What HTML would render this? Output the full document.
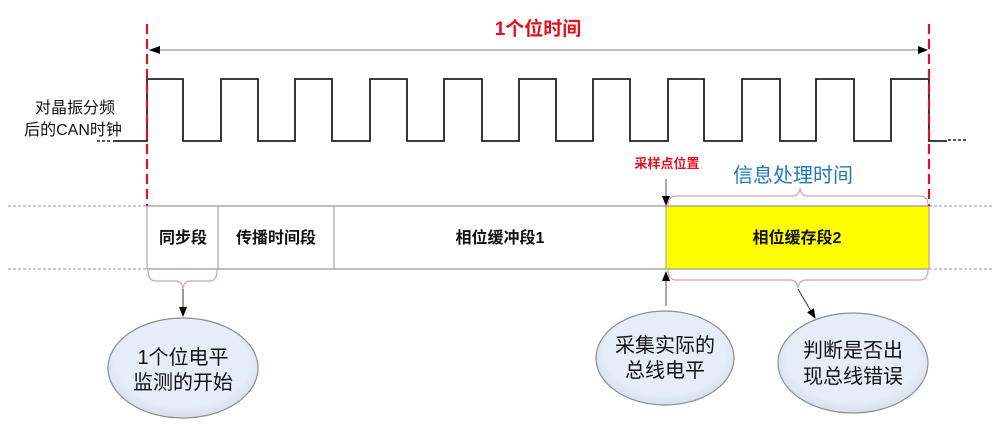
<!DOCTYPE html>
<html><head><meta charset="utf-8"><style>
body{margin:0;background:#fff;}
svg{display:block;font-family:"Liberation Sans","Noto Sans CJK SC",sans-serif;}
</style></head><body>
<svg width="1000" height="430" viewBox="0 0 1000 430" xmlns="http://www.w3.org/2000/svg">
<defs>
<marker id="a" markerWidth="10" markerHeight="8" refX="9" refY="4" orient="auto" markerUnits="userSpaceOnUse"><path d="M0,0 L10,4 L0,8z" fill="#000"/></marker>
<radialGradient id="g" cx="50%" cy="45%" r="55%"><stop offset="0.8" stop-color="#e4edf8"/><stop offset="1" stop-color="#d6dfeb"/></radialGradient>
</defs>
<text x="538" y="35" font-size="19" font-weight="bold" fill="#e2101a" text-anchor="middle">1个位时间</text>
<line x1="149" y1="50" x2="927" y2="50" stroke="#999" stroke-width="1.2" marker-end="url(#a)"/>
<path d="M160,46 L149,50 L160,54z" fill="#000"/>
<path d="M113,141 L147,141 L147,79 L183,79 L183,141 L221,141 L221,79 L258,79 L258,141 L295,141 L295,79 L332,79 L332,141 L370,141 L370,79 L407,79 L407,141 L444,141 L444,79 L482,79 L482,141 L519,141 L519,79 L556,79 L556,141 L593,141 L593,79 L630,79 L630,141 L668,141 L668,79 L704,79 L704,141 L742,141 L742,79 L780,79 L780,141 L816,141 L816,79 L854,79 L854,141 L891,141 L891,79 L929,79 L929,141 L947,141" fill="none" stroke="#222" stroke-width="1.8"/>
<line x1="97" y1="141" x2="112" y2="141" stroke="#222" stroke-width="1.5" stroke-dasharray="3,2"/>
<line x1="948" y1="140" x2="966" y2="140" stroke="#222" stroke-width="1.5" stroke-dasharray="3,2"/>
<text x="75" y="113" font-size="16" text-anchor="middle" fill="#111">对晶振分频</text>
<text x="73" y="135" font-size="16" text-anchor="middle" fill="#111">后的CAN时钟</text>
<line x1="8" y1="206" x2="147" y2="206" stroke="#999" stroke-dasharray="3,2"/>
<line x1="8" y1="269" x2="147" y2="269" stroke="#999" stroke-dasharray="3,2"/>
<line x1="929" y1="206" x2="992" y2="206" stroke="#999" stroke-dasharray="3,2"/>
<line x1="929" y1="269" x2="992" y2="269" stroke="#999" stroke-dasharray="3,2"/>
<rect x="666" y="206" width="263" height="63" fill="#ffff00"/>
<line x1="147" y1="206" x2="929" y2="206" stroke="#999" stroke-width="1.2"/>
<line x1="147" y1="269" x2="929" y2="269" stroke="#999" stroke-width="1.2"/>
<g stroke="#999" stroke-width="1"><line x1="147" y1="206" x2="147" y2="269"/><line x1="218" y1="206" x2="218" y2="269"/><line x1="334" y1="206" x2="334" y2="269"/><line x1="666" y1="206" x2="666" y2="269"/><line x1="929" y1="206" x2="929" y2="269"/></g>
<g font-size="16" font-weight="bold" fill="#111" text-anchor="middle">
<text x="183" y="243">同步段</text><text x="276" y="243">传播时间段</text><text x="500" y="243">相位缓冲段1</text><text x="797" y="243">相位缓存段2</text></g>
<line x1="147" y1="24" x2="147" y2="206" stroke="#d9161f" stroke-width="2.2" stroke-dasharray="10,5"/>
<line x1="929" y1="24" x2="929" y2="206" stroke="#d9161f" stroke-width="2.2" stroke-dasharray="10,5"/>
<text x="667" y="168" font-size="13" font-weight="bold" fill="#e2101a" text-anchor="middle">采样点位置</text>
<line x1="666" y1="179" x2="666" y2="205" stroke="#555" marker-end="url(#a)"/>
<text x="793" y="182" font-size="20" fill="#1e7ac0" text-anchor="middle">信息处理时间</text>
<g fill="none" stroke="#d9a0a8" stroke-width="1.2">
<path d="M668,205 Q668,196 676,196 L792,196 Q799,196 800,188 Q801,196 808,196 L920,196 Q928,196 928,205"/>
<path d="M668,270 Q668,280 676,280 L790,280 Q797,280 798,288 Q799,280 806,280 L920,280 Q928,280 928,270"/>
<path d="M148,270 Q148,281 156,281 L176,281 Q182,281 183,289 Q184,281 190,281 L210,281 Q217,281 217,270"/>
</g>
<line x1="183" y1="289" x2="183" y2="316" stroke="#333" marker-end="url(#a)"/>
<line x1="666" y1="306" x2="666" y2="272" stroke="#555" marker-end="url(#a)"/>
<line x1="798" y1="289" x2="815" y2="318" stroke="#333" marker-end="url(#a)"/>
<g fill="url(#g)" stroke="#8a8f96" stroke-width="1.2">
<ellipse cx="183" cy="368" rx="75" ry="50"/>
<ellipse cx="665" cy="358" rx="69" ry="47"/>
<ellipse cx="853" cy="363" rx="75" ry="50"/>
</g>
<g font-size="20" fill="#111" text-anchor="middle">
<text x="183" y="364">1个位电平</text><text x="183" y="389">监测的开始</text>
<text x="665" y="352">采集实际的</text><text x="665" y="377">总线电平</text>
<text x="853" y="357">判断是否出</text><text x="853" y="383">现总线错误</text>
</g>
</svg>
</body></html>
